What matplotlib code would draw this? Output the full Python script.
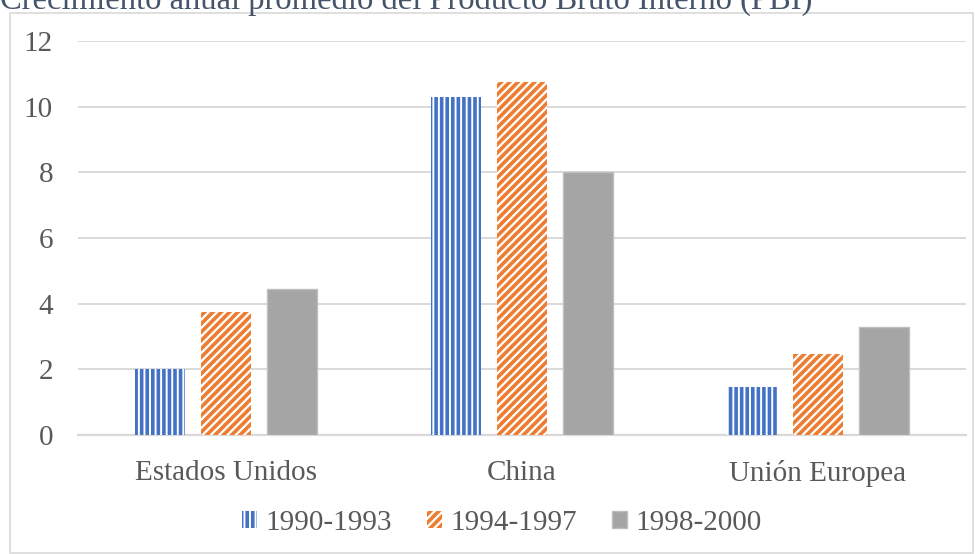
import matplotlib
matplotlib.use('Agg')
import matplotlib.pyplot as plt
from matplotlib.patches import Rectangle
import numpy as np

categories = ['Estados Unidos', 'China', 'Unión Europea']
periods = ['1990-1993', '1994-1997', '1998-2000']
v_1990_1993 = [2.0, 10.3, 1.45]
v_1994_1997 = [3.75, 10.75, 2.48]
v_1998_2000 = [4.45, 8.0, 3.3]
yticks = [0, 2, 4, 6, 8, 10, 12]

plt.rcParams['font.family'] = ['Liberation Serif', 'DejaVu Serif']
plt.rcParams['hatch.linewidth'] = 2.6

text_gray = '#595959'
grid_gray = '#D9D9D9'

fig = plt.figure(figsize=(9.75, 5.54), dpi=100)
ax = fig.add_axes([78 / 975, 1 - 435 / 554, (966 - 78) / 975, (435 - 41) / 554])

x = np.arange(len(categories))
width = 0.172
offset = 0.223

ax.bar(x - offset, v_1990_1993, width, facecolor='white', edgecolor='#4472C4',
       linewidth=0, hatch='|||', label=periods[0], zorder=3)
ax.bar(x, v_1994_1997, width, facecolor='white', edgecolor='#ED7D31',
       linewidth=0, hatch='////', label=periods[1], zorder=3)
ax.bar(x + offset, v_1998_2000, width, facecolor='#A5A5A5', edgecolor='#BFBFBF',
       linewidth=1, label=periods[2], zorder=3)

ax.set_xlim(-0.5, 2.5)
ax.set_ylim(0, 12)
ax.set_yticks(yticks)
ax.set_yticklabels([str(t) for t in yticks])
ax.set_xticks(x)
ax.set_xticklabels(categories)
ax.tick_params(axis='both', length=0, labelsize=21, colors=text_gray)
ax.tick_params(axis='y', pad=18)
ax.tick_params(axis='x', pad=18)
ax.yaxis.grid(True, color=grid_gray, linewidth=1.4, zorder=0)
ax.set_axisbelow(True)
for side in ['top', 'right', 'left']:
    ax.spines[side].set_visible(False)
ax.spines['bottom'].set_color(grid_gray)
ax.spines['bottom'].set_linewidth(1.6)

# chart border
fig.patches.append(Rectangle((10 / 975, 1 / 554), 963 / 975, (553 - 13) / 554,
                             transform=fig.transFigure, fill=False,
                             edgecolor=grid_gray, linewidth=1.2))

fig.text(0.0, 1 - 9 / 554, 'Crecimiento anual promedio del Producto Bruto Interno (PBI)',
         fontsize=23.5, color='#44546A', ha='left', va='baseline')

fig.legend(loc='center', bbox_to_anchor=(502 / 975, 1 - 523 / 554), ncol=3,
           frameon=False, fontsize=21, labelcolor=text_gray,
           handlelength=0.5, handleheight=0.5, handletextpad=0.3,
           columnspacing=1.2)

fig.savefig('out.png', dpi=100)
